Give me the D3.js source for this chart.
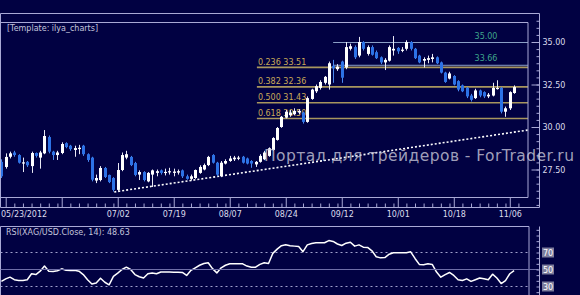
<!DOCTYPE html>
<html><head><meta charset="utf-8">
<script src="https://cdn.jsdelivr.net/npm/d3@7"></script>
<style>
html,body{margin:0;padding:0;background:#010142;overflow:hidden}
svg{display:block}
text{font-family:"DejaVu Sans",Verdana,sans-serif}
</style></head><body>
<svg id="c" width="580" height="295"></svg>
<script>
// ---- data (XAG/USD daily, 05/23/2012 .. 11/07/2012) ----
const opens = [27.95,27.65,28.25,28.5,28.35,27.85,27.95,27.7,28.47,28.2,
28.45,29.41,28.55,28.35,28.47,29.05,28.9,28.65,28.7,28.9,
28.4,28.2,26.85,26.88,27.59,27.18,27.0,26.3,27.47,28.2,
28.24,27.88,27.2,27.35,26.8,27.2,27.3,27.45,27.32,27.35,
27.3,27.32,27.45,27.1,26.95,27.0,27.3,27.5,27.76,28.35,
27.9,27.1,27.85,28.0,28.1,28.15,28.25,28.15,28.0,27.8,
27.95,28.1,28.3,28.65,29.24,30.0,30.55,30.7,30.75,30.85,
30.85,30.3,31.65,32.1,32.3,32.6,32.5,33.6,33.4,33.85,
33.5,34.6,34.7,34.2,35.0,34.3,34.7,34.4,34.1,33.8,
33.9,34.5,34.65,34.5,34.6,35.0,34.6,34.2,33.9,33.95,
34.0,34.1,33.8,33.2,32.85,33.0,32.7,32.45,32.3,31.85,
31.7,32.15,32.05,31.8,31.85,32.25,32.3,30.9,31.1,32.0];
const highs = [28.1,28.45,28.55,28.6,28.4,28.2,28.0,28.55,28.5,28.6,
29.82,29.5,28.6,28.6,29.1,29.1,28.95,28.9,28.95,28.95,
28.45,28.25,27.2,27.7,27.65,27.2,27.05,27.88,28.5,28.6,
28.3,27.95,27.45,27.4,27.35,27.5,27.5,27.5,27.55,27.6,
27.55,27.5,27.5,27.2,27.2,27.5,27.75,27.85,28.3,28.4,
27.95,28.0,28.1,28.3,28.3,28.3,28.3,28.2,28.05,28.0,
28.4,28.6,28.8,29.4,30.0,30.65,31.0,31.0,31.1,31.05,
30.9,31.8,32.25,32.5,32.75,33.0,33.85,33.95,33.7,33.9,
35.0,34.9,34.8,35.3,35.05,34.8,34.8,34.5,34.15,34.05,
34.8,35.35,34.7,34.7,35.1,35.05,34.65,34.25,34.1,34.2,
34.3,34.15,33.85,33.25,33.25,33.05,32.75,32.5,32.35,31.95,
32.25,32.2,32.1,32.0,32.6,32.75,32.35,31.2,32.1,32.45];
const lows = [27.0,27.55,28.15,28.25,27.85,27.35,27.65,27.3,28.2,27.55,
28.4,28.45,28.06,28.06,28.4,28.75,28.6,28.25,28.4,28.3,
27.95,26.8,26.7,26.8,27.0,26.7,26.2,26.18,27.4,28.1,
27.7,27.1,26.88,26.8,26.75,26.47,27.1,27.2,27.15,27.2,
27.1,27.2,27.0,26.9,26.85,26.95,27.25,27.45,27.7,27.85,
27.1,27.05,27.8,27.95,28.0,28.05,27.85,27.8,27.6,27.65,
27.9,28.05,28.25,28.6,29.2,29.95,30.5,30.6,30.7,30.75,
30.2,30.25,31.6,32.0,32.2,32.5,32.2,32.6,33.3,32.6,
33.4,34.5,34.0,34.1,34.5,34.2,34.2,34.0,33.7,33.35,
33.85,34.2,34.3,34.4,34.5,34.5,34.0,33.75,33.5,33.75,
33.8,33.7,33.15,32.6,32.8,32.45,32.1,32.05,31.7,31.5,
31.65,31.75,31.7,31.7,31.8,32.2,30.8,30.6,31.0,31.95];
const closes = [27.1,28.24,28.45,28.35,27.9,27.92,27.75,28.47,28.3,28.5,
29.47,28.55,28.35,28.5,29.0,28.82,28.7,28.76,28.78,28.4,
28.06,26.9,27.0,27.59,27.06,26.76,26.3,27.47,28.35,28.4,
27.76,27.18,27.35,26.88,27.3,27.45,27.4,27.3,27.36,27.4,
27.38,27.4,27.1,26.95,27.1,27.47,27.65,27.76,28.24,27.9,
27.2,27.9,28.0,28.15,28.2,28.2,27.9,27.85,27.85,27.95,
28.3,28.5,28.75,29.35,29.94,30.6,30.9,30.85,30.95,30.95,
30.3,31.7,32.2,32.4,32.65,32.95,33.75,33.45,33.55,32.9,
34.7,34.75,34.1,35.0,34.6,34.7,34.25,34.05,33.8,33.95,
34.7,34.6,34.45,34.55,35.0,34.6,34.05,33.8,34.0,34.05,
34.1,33.75,33.2,32.65,33.15,32.5,32.2,32.1,31.8,31.6,
32.15,31.85,31.8,31.9,32.3,32.3,30.9,31.1,32.05,32.35];
const rsiValues = [36,39,41,38,37,37,38,45,44,48,
54,48,47.6,48.5,50.8,49,48.8,49,48,44,
38,33,34,39.8,35,32,42,45.7,50,52.7,
50,44,41.5,40,45,46,45,47,47,47,
46.9,46.9,46.5,43,49,52,55,57,58,51,
46,52,55,56.7,56.7,56.7,56.7,54,52.7,52.7,
56,58,57,69,74,78,79,78,77.5,77,
71,79,80.5,81.4,81.4,81.5,84,83,80,78.2,
81,82,77.5,79,76.3,76,72,65,63.7,64,
68,69.6,69.6,69.6,69.6,70.8,63,56,55.5,56.7,
56,47,41,44,46.5,43,38,37,39,36,
38,40,39,38,44.5,40,33.5,37,45,48.63];
const xTickIdx = [0,27,40,53,66,79,92,105,118];
const xTickLabels = ["05/23/2012","07/02","07/19","08/07","08/24","09/12","10/01","10/18","11/06"];
const xMajorIdx = [1,14,27,40,53,66,79,92,105,118];
const priceTicks = [27.5,30,32.5,35];
const priceTickLabels = ["27.50","30.00","32.50","35.00"];
const fibRatios = ["0.236","0.382","0.500","0.618"];
const fibLevels = [33.51,32.36,31.43,30.50];
const fibStartIdx = 59.3;
const resLevels = [35.00,33.66];
const resStartIdx = 77;
const rsiLevels = [70,50,30];
const rsiTickLabels = ["70","50","30"];
const trendIdx = [26.2,122.2];
const trendPrice = [26.18,29.82];
const templateLabel = "[Template: ilya_charts]";
const rsiLabel = "RSI(XAG/USD.Close, 14): 48.63";
const watermark = "Портал для трейдеров - ForTrader.ru";

// ---- layout ----
const BG="#010142", FRAME="#a9a9d6", TXT="#dcdcec";
const PL=0.5, PR=528, PT=22.5, PB=197.5, AX=539.5;
const RT=226.5, RR=529;
const N = closes.length;

const svg = d3.select("#c");
svg.append("rect").attr("width",580).attr("height",295).attr("fill",BG);

const x = d3.scaleLinear().domain([0,119]).range([1.4,514.1]);
const y = d3.scaleLinear().domain([27.5,35]).range([169.5,42]);
const yr = d3.scaleLinear().domain([30,70]).range([286.5,252.5]);

const defs = svg.append("defs");
defs.append("clipPath").attr("id","plot").append("rect")
  .attr("x",PL).attr("y",PT).attr("width",PR-PL).attr("height",PB-PT);
defs.append("clipPath").attr("id","rsip").append("rect")
  .attr("x",PL).attr("y",RT).attr("width",RR-PL).attr("height",295-RT);

const plot = svg.append("g").attr("clip-path","url(#plot)");

// resistance lines
resLevels.forEach(v=>{
  plot.append("line").attr("x1",x(resStartIdx)).attr("x2",PR)
    .attr("y1",y(v)+0.5).attr("y2",y(v)+0.5)
    .attr("stroke","#8b9fc6").attr("stroke-width",1);
  plot.append("text").attr("x",486).attr("y",y(v)-3.5).attr("text-anchor","middle")
    .attr("font-size",8).attr("fill","#3fa68c").text(d3.format(".2f")(v));
});
// fib lines
fibLevels.forEach((v,i)=>{
  plot.append("line").attr("x1",x(fibStartIdx)).attr("x2",PR)
    .attr("y1",y(v)).attr("y2",y(v))
    .attr("stroke","#a8965e").attr("stroke-width",1.6);
  plot.append("text").attr("x",x(fibStartIdx)+1).attr("y",y(v)-2.5)
    .attr("font-size",8).attr("fill","#c9a957").text(fibRatios[i]+" "+d3.format(".2f")(v));
});

// trendline
plot.append("line")
  .attr("x1",x(trendIdx[0])).attr("y1",y(trendPrice[0]))
  .attr("x2",x(trendIdx[1])).attr("y2",y(trendPrice[1]))
  .attr("stroke","#ffffff").attr("stroke-width",1.6).attr("stroke-dasharray","2,2");

// candles
const idx = d3.range(N);
const UP="#ffffff", DN="#2d72e6", DNW="#4a88f0";
plot.selectAll("line.wick").data(idx).join("line")
  .attr("x1",i=>Math.round(x(i))+0.5).attr("x2",i=>Math.round(x(i))+0.5)
  .attr("y1",i=>y(highs[i])).attr("y2",i=>y(lows[i]))
  .attr("stroke",i=>closes[i]>=opens[i]?"#e8e8f4":DNW).attr("stroke-width",1);
plot.selectAll("rect.body").data(idx).join("rect")
  .attr("x",i=>Math.round(x(i))-1)
  .attr("y",i=>y(Math.max(opens[i],closes[i])))
  .attr("width",3)
  .attr("height",i=>Math.max(1.2,Math.abs(y(opens[i])-y(closes[i]))))
  .attr("fill",i=>closes[i]>=opens[i]?UP:DN);

// template label
svg.append("text").attr("x",7).attr("y",31).attr("font-size",8).attr("fill","#c4c4dc").text(templateLabel);

// frames
const fr = svg.append("g").attr("fill","none").attr("stroke",FRAME).attr("stroke-width",1);
fr.append("path").attr("d",`M0.5,207.5V13.5H${AX}V207.5H0.5`);
fr.append("path").attr("d",`M0.5,${PT}H${PR}V${PB}H0.5`);
fr.append("path").attr("d",`M0.5,295V${RT}H${RR}V295`);
fr.append("path").attr("d",`M${AX},${RT}V295`);

// price axis
const pMinor = d3.range(25,36.3,2.5/6).filter(v=>y(v)>14 && y(v)<206);
const gp1 = svg.append("g").attr("transform",`translate(${AX},0)`)
  .call(d3.axisRight(y).tickValues(pMinor).tickSize(-3).tickFormat(""));
const gp2 = svg.append("g").attr("transform",`translate(${AX},0)`)
  .call(d3.axisRight(y).tickValues(priceTicks).tickSize(-8).tickPadding(3)
    .tickFormat((d,i)=>priceTickLabels[i]));
[gp1,gp2].forEach(g=>{g.select(".domain").remove();
  g.selectAll("line").attr("stroke",FRAME);
  g.selectAll("text").attr("font-size",8).attr("fill",TXT).attr("font-family","DejaVu Sans, Verdana, sans-serif");});

// x axis
const xMinor = [];
xMajorIdx.forEach(m=>{ for(let k=2;k<13;k+=2){ if(m+k<=121) xMinor.push(m+k);} });
const gx1 = svg.append("g").attr("transform","translate(0,207.5)")
  .call(d3.axisTop(x).tickValues(xMinor.filter(v=>x(v)<AX)).tickSize(4).tickFormat(""));
const gx2 = svg.append("g").attr("transform",`translate(0,${PB})`)
  .call(d3.axisBottom(x).tickValues(xMajorIdx).tickSize(10).tickFormat(""));
const gx3 = svg.append("g").attr("transform",`translate(0,${PB})`)
  .call(d3.axisBottom(x).tickValues(xTickIdx).tickSize(0).tickPadding(14)
    .tickFormat((d,i)=>xTickLabels[i]));
[gx1,gx2,gx3].forEach(g=>{g.select(".domain").remove();
  g.selectAll("line").attr("stroke",FRAME);
  g.selectAll("text").attr("font-size",8).attr("fill",TXT).attr("font-family","DejaVu Sans, Verdana, sans-serif");});
gx3.selectAll(".tick").filter(d=>d===0).select("text")
  .attr("text-anchor","start").attr("x",-x(0)+0.5);

// RSI panel
const rp = svg.append("g").attr("clip-path","url(#rsip)");
svg.append("line").attr("x1",PL).attr("x2",AX-1).attr("y1",yr(50)).attr("y2",yr(50))
  .attr("stroke","#6f6fa8").attr("stroke-width",1);
[70,30].forEach(v=>{
  rp.append("line").attr("x1",PL).attr("x2",RR).attr("y1",yr(v)).attr("y2",yr(v))
    .attr("stroke","#a0a0cc").attr("stroke-width",1).attr("stroke-dasharray","2,3");
});
rp.append("path").datum(idx)
  .attr("d",d3.line().x(i=>x(i)).y(i=>yr(rsiValues[i])))
  .attr("fill","none").attr("stroke","#ffffff").attr("stroke-width",1.5).attr("stroke-linejoin","round");
svg.append("text").attr("x",6).attr("y",235).attr("font-size",8).attr("fill","#c4c4dc").text(rsiLabel);

const rMinor = d3.range(30-20/3,101,20/3).filter(v=>yr(v)>228);
const gr1 = svg.append("g").attr("transform",`translate(${AX},0)`)
  .call(d3.axisRight(yr).tickValues(rMinor).tickSize(-3).tickFormat(""));
gr1.select(".domain").remove(); gr1.selectAll("line").attr("stroke",FRAME);
rsiLevels.forEach((v,i)=>{
  svg.append("rect").attr("x",542).attr("y",yr(v)-5).attr("width",12).attr("height",10)
    .attr("fill","#7c7c9c");
  svg.append("text").attr("x",548).attr("y",yr(v)+3).attr("text-anchor","middle")
    .attr("font-size",8).attr("fill","#ffffff").text(rsiTickLabels[i]);
});

// watermark
svg.append("text").attr("x",264).attr("y",161).attr("font-size",15.5)
  .attr("textLength",310).attr("lengthAdjust","spacing")
  .attr("fill","#c9c9da").attr("fill-opacity",0.8).text(watermark);
</script>
</body></html>
